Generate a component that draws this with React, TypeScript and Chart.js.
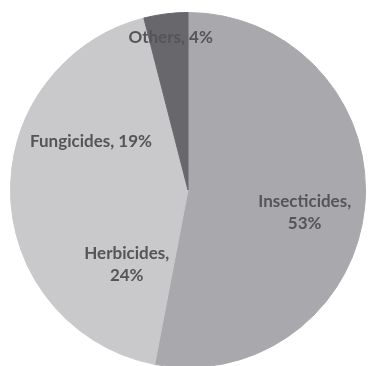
import React, { useEffect, useRef } from "react";
import { Chart, registerables } from "chart.js";

Chart.register(...registerables);

const categories = ["Insecticides", "Herbicides", "Fungicides", "Others"];
const shares = [53, 24, 19, 4];
const labelLines = [["Insecticides,", "53%"], ["Herbicides,", "24%"], ["Fungicides, 19%"], ["Others, 4%"]];
const colors = ["#a9a9ad", "#c9c9cb", "#c9c9cb", "#68676c"];
// label placement: [fraction of arc's angular span, fraction of radius]
const labelPlacement = [[0.53, 0.67], [0.33, 0.545], [0.28, 0.61], [0.55, 0.865]];

const labelPlugin = {
  id: "sliceLabels",
  afterDatasetsDraw(chart: any) {
    const ctx = chart.ctx;
    const meta = chart.getDatasetMeta(0);
    ctx.save();
    ctx.font = "bold 17px Lato, 'Open Sans', sans-serif";
    ctx.fillStyle = "#545459";
    ctx.textAlign = "center";
    ctx.textBaseline = "middle";
    meta.data.forEach((arc: any, i: number) => {
      const { x, y, startAngle, endAngle, outerRadius } = arc.getProps(
        ["x", "y", "startAngle", "endAngle", "outerRadius"],
        true
      );
      const [af, rf] = labelPlacement[i];
      const a = startAngle + (endAngle - startAngle) * af;
      const r = outerRadius * rf;
      const cx = x + Math.cos(a) * r;
      const cy = y + Math.sin(a) * r;
      const lines = labelLines[i];
      const lh = 22;
      lines.forEach((t, k) => {
        ctx.fillText(t, cx, cy + (k - (lines.length - 1) / 2) * lh);
      });
    });
    ctx.restore();
  },
};

export default function App() {
  const ref = useRef<HTMLCanvasElement>(null);
  useEffect(() => {
    document.body.style.margin = "0";
    const chart = new Chart(ref.current!, {
      type: "pie",
      data: {
        labels: categories,
        datasets: [
          {
            data: shares,
            backgroundColor: colors,
            borderColor: colors,
            borderWidth: 1,
          },
        ],
      },
      options: {
        animation: false,
        responsive: false,
        layout: { padding: { left: 10, right: 2, top: 12, bottom: 2 } },
        plugins: { legend: { display: false }, tooltip: { enabled: false } },
      },
      plugins: [labelPlugin],
    });
    return () => chart.destroy();
  }, []);
  return (
    <div style={{ position: "fixed", left: 0, top: 0, width: 368, height: 366, overflow: "hidden", background: "#fff" }}>
      <canvas ref={ref} width={368} height={370} style={{ display: "block" }} />
    </div>
  );
}
